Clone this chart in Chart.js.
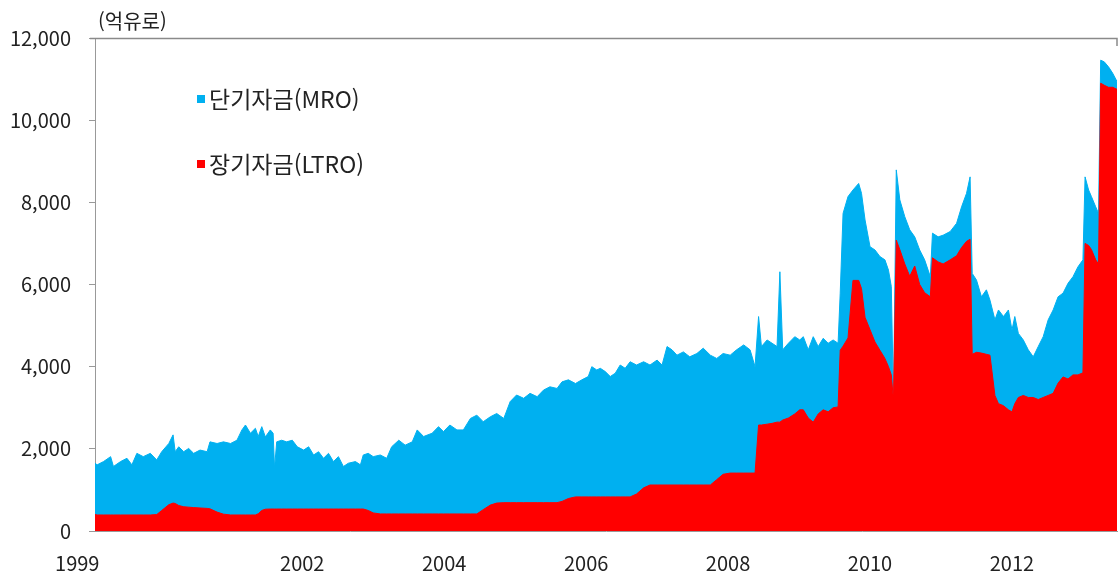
<!DOCTYPE html>
<html lang="ko">
<head>
<meta charset="utf-8">
<title>단기자금 / 장기자금</title>
<script src="https://cdn.jsdelivr.net/npm/chart.js@4.4.1/dist/chart.umd.min.js"></script>
<style>
  html, body { margin: 0; padding: 0; background: #fff; }
  #wrap { position: relative; width: 1120px; height: 579px; }
</style>
</head>
<body>
<div id="wrap"><canvas id="fundChart" width="1120" height="579"></canvas></div>
<script>
// 값은 그림에서 눈으로 읽은 것 (억유로). x는 축 눈금 기준의 연도 위치
const dates = [
  1999.08, 1999.11, 1999.20, 1999.30, 1999.34, 1999.44, 1999.53, 1999.60, 1999.67, 1999.76,
  1999.86, 1999.95, 2000.02, 2000.12, 2000.18, 2000.21, 2000.26, 2000.33, 2000.40, 2000.47,
  2000.56, 2000.66, 2000.70, 2000.80, 2000.89, 2000.99, 2001.08, 2001.15, 2001.20, 2001.27,
  2001.34, 2001.38, 2001.43, 2001.48, 2001.55, 2001.59, 2001.61, 2001.64, 2001.71, 2001.78,
  2001.86, 2001.93, 2002.02, 2002.09, 2002.16, 2002.23, 2002.30, 2002.37, 2002.44, 2002.51,
  2002.58, 2002.65, 2002.75, 2002.82, 2002.86, 2002.93, 2003.00, 2003.10, 2003.19, 2003.26,
  2003.36, 2003.45, 2003.55, 2003.62, 2003.71, 2003.83, 2003.92, 2003.99, 2004.08, 2004.18,
  2004.27, 2004.37, 2004.46, 2004.55, 2004.65, 2004.74, 2004.84, 2004.93, 2005.02, 2005.12,
  2005.21, 2005.31, 2005.40, 2005.49, 2005.59, 2005.66, 2005.75, 2005.85, 2005.94, 2006.03,
  2006.08, 2006.15, 2006.20, 2006.27, 2006.34, 2006.41, 2006.48, 2006.55, 2006.62, 2006.71,
  2006.81, 2006.90, 2007.00, 2007.07, 2007.14, 2007.21, 2007.28, 2007.37, 2007.46, 2007.56,
  2007.65, 2007.75, 2007.84, 2007.93, 2008.03, 2008.12, 2008.22, 2008.31, 2008.38, 2008.43,
  2008.47, 2008.55, 2008.62, 2008.69, 2008.73, 2008.77, 2008.85, 2008.94, 2009.01, 2009.06,
  2009.13, 2009.20, 2009.27, 2009.34, 2009.41, 2009.48, 2009.55, 2009.58, 2009.62, 2009.69,
  2009.76, 2009.84, 2009.88, 2009.93, 2010.00, 2010.07, 2010.14, 2010.21, 2010.26, 2010.30,
  2010.33, 2010.37, 2010.42, 2010.49, 2010.56, 2010.63, 2010.70, 2010.77, 2010.85, 2010.88,
  2010.96, 2011.03, 2011.13, 2011.22, 2011.29, 2011.36, 2011.41, 2011.44, 2011.50, 2011.57,
  2011.64, 2011.69, 2011.76, 2011.81, 2011.88, 2011.95, 2012.00, 2012.04, 2012.09, 2012.16,
  2012.23, 2012.30, 2012.37, 2012.44, 2012.51, 2012.58, 2012.65, 2012.72, 2012.79, 2012.86,
  2012.93, 2013.00, 2013.03, 2013.08, 2013.12, 2013.18, 2013.22, 2013.25, 2013.30, 2013.36,
  2013.42, 2013.48
];

// 파란 영역의 윗선 = 단기자금 + 장기자금 합계
const totalFunds = [
  1650, 1610, 1690, 1810, 1570, 1690, 1770, 1610, 1890, 1810,
  1890, 1730, 1930, 2130, 2340, 1930, 2050, 1930, 2010, 1890,
  1970, 1930, 2170, 2130, 2170, 2130, 2210, 2460, 2580, 2380,
  2500, 2300, 2540, 2290, 2460, 2380, 1530, 2170, 2210, 2170,
  2210, 2050, 1970, 2050, 1850, 1930, 1770, 1890, 1690, 1810,
  1570, 1650, 1690, 1610, 1850, 1890, 1810, 1850, 1770, 2050,
  2210, 2090, 2170, 2460, 2300, 2380, 2540, 2420, 2580, 2460,
  2460, 2740, 2820, 2660, 2780, 2860, 2740, 3150, 3310, 3230,
  3350, 3270, 3430, 3510, 3470, 3630, 3680, 3590, 3680, 3760,
  4000, 3920, 3960, 3880, 3760, 3840, 4040, 3960, 4120, 4040,
  4120, 4040, 4160, 4040, 4490, 4410, 4280, 4360, 4240, 4320,
  4450, 4280, 4200, 4320, 4280, 4410, 4530, 4410, 4000, 5220,
  4490, 4650, 4570, 4490, 6310, 4410, 4570, 4730, 4650, 4730,
  4410, 4730, 4490, 4690, 4570, 4650, 4570, 5790, 7730, 8140,
  8300, 8460, 8220, 7570, 6920, 6840, 6680, 6600, 6350, 5950,
  3190, 8790, 8060, 7650, 7330, 7160, 6840, 6600, 6190, 7250,
  7160, 7200, 7290, 7490, 7890, 8220, 8620, 6270, 6110, 5700,
  5870, 5620, 5140, 5380, 5220, 5380, 4890, 5220, 4810, 4650,
  4410, 4240, 4490, 4730, 5140, 5380, 5700, 5790, 6030, 6190,
  6430, 6600, 8620, 8300, 8140, 7890, 7730, 11460, 11420, 11300,
  11140, 10940
];

// 장기자금(LTRO)
const ltroFunds = [
  400, 390, 390, 390, 390, 390, 390, 390, 390, 390,
  390, 400, 500, 640, 680, 670, 620, 590, 580, 570,
  560, 550, 540, 460, 410, 390, 390, 390, 390, 390,
  390, 420, 500, 530, 535, 535, 535, 535, 535, 535,
  535, 535, 535, 535, 535, 535, 535, 535, 535, 535,
  535, 535, 535, 535, 535, 500, 440, 415, 415, 415,
  415, 415, 415, 415, 415, 415, 415, 415, 415, 415,
  415, 415, 415, 520, 630, 680, 690, 690, 690, 690,
  690, 690, 690, 690, 690, 720, 790, 830, 830, 830,
  830, 830, 830, 830, 830, 830, 830, 830, 830, 900,
  1050, 1120, 1120, 1120, 1120, 1120, 1120, 1120, 1120, 1120,
  1120, 1120, 1250, 1380, 1410, 1410, 1410, 1410, 1410, 2580,
  2580, 2600, 2620, 2650, 2650, 2700, 2750, 2850, 2950, 2950,
  2750, 2650, 2850, 2950, 2900, 3000, 3020, 4400, 4500, 4700,
  6100, 6100, 5900, 5200, 4900, 4600, 4400, 4200, 4000, 3800,
  3190, 7080, 6850, 6500, 6200, 6450, 6000, 5800, 5700, 6650,
  6550, 6500, 6600, 6700, 6900, 7050, 7100, 4300, 4350, 4330,
  4300, 4280, 3300, 3100, 3050, 2950, 2900, 3100, 3250, 3300,
  3250, 3250, 3200, 3250, 3300, 3350, 3600, 3750, 3700, 3800,
  3800, 3850, 7000, 6950, 6850, 6600, 6500, 10900, 10850, 10800,
  10800, 10750
];

const yTicks = [0, 2000, 4000, 6000, 8000, 10000, 12000];
// 첫 눈금 글자는 원본처럼 축 시작점 왼쪽에 놓인다
const xTickPos = [1998.83, 2002, 2004, 2006, 2008, 2010, 2012];
const xTickLabels = ["1999", "2002", "2004", "2006", "2008", "2010", "2012"];
const seriesNames = ["단기자금(MRO)", "장기자금(LTRO)"];
const seriesColors = ["#00B0F0", "#FF0000"];
const unitLabel = "(억유로)";

const FONT = "'Noto Sans CJK KR', 'Noto Sans', sans-serif";

function toPoints(values) {
  return dates.map((d, i) => ({ x: d, y: values[i] }));
}

// 범례와 단위 표시 (차트 영역 안쪽 왼쪽 위)
const legendInside = {
  id: "legendInside",
  afterDraw(chart) {
    const { ctx, chartArea } = chart;
    ctx.save();
    // 위, 오른쪽 테두리
    ctx.strokeStyle = "#8a8a8a";
    ctx.lineWidth = 1.5;
    ctx.beginPath();
    ctx.moveTo(chartArea.left - 5, chartArea.top + 0.5);
    ctx.lineTo(chartArea.right, chartArea.top + 0.5);
    ctx.lineTo(chartArea.right, chartArea.top + 8);
    ctx.stroke();

    ctx.fillStyle = "#222";
    ctx.font = "20px " + FONT;
    ctx.textAlign = "left";
    ctx.textBaseline = "middle";
    ctx.fillText(unitLabel, chartArea.left + 3, chartArea.top - 17);

    ctx.font = "23px " + FONT;
    seriesNames.forEach((name, i) => {
      const cy = chartArea.top + 61 + i * 65;
      const sx = chartArea.left + 102;
      ctx.fillStyle = seriesColors[i];
      ctx.fillRect(sx, cy - 4, 8, 8);
      ctx.fillStyle = "#222";
      ctx.fillText(name, sx + 12, cy);
    });
    ctx.restore();
  },
};

new Chart(document.getElementById("fundChart"), {
  type: "line",
  data: {
    datasets: [
      {
        label: seriesNames[0],
        data: toPoints(totalFunds),
        borderColor: seriesColors[0],
        backgroundColor: seriesColors[0],
        borderWidth: 1,
        fill: "origin",
        pointRadius: 0,
        tension: 0,
        order: 1,
      },
      {
        label: seriesNames[1],
        data: toPoints(ltroFunds),
        borderColor: seriesColors[1],
        backgroundColor: seriesColors[1],
        borderWidth: 1,
        fill: "origin",
        pointRadius: 0,
        tension: 0,
        order: 0,
      },
    ],
  },
  options: {
    responsive: false,
    animation: false,
    devicePixelRatio: 1,
    layout: { padding: { top: 38, right: 3, left: 0, bottom: 0 } },
    plugins: { legend: { display: false }, tooltip: { enabled: false } },
    scales: {
      x: {
        type: "linear",
        min: 1999.08,
        max: 2013.48,
        afterBuildTicks: (s) => { s.ticks = xTickPos.map((v) => ({ value: v })); },
        afterFit: (s) => { s.height = 48; },
        grid: { display: false },
        border: { display: true, color: "#999" },
        ticks: {
          autoSkip: false,
          maxRotation: 0,
          padding: 12,
          color: "#222",
          font: { family: FONT, size: 20 },
          callback: (v) => xTickLabels[xTickPos.indexOf(v)],
        },
      },
      y: {
        min: 0,
        max: 12000,
        afterBuildTicks: (s) => { s.ticks = yTicks.map((v) => ({ value: v })); },
        afterFit: (s) => { s.width = 95; },
        grid: { drawOnChartArea: false, tickLength: 6, color: "#999" },
        border: { display: true, color: "#999" },
        ticks: {
          padding: 18,
          color: "#222",
          font: { family: FONT, size: 20 },
          callback: (v) => v.toLocaleString("en-US"),
        },
      },
    },
  },
  plugins: [legendInside],
});
</script>
</body>
</html>
